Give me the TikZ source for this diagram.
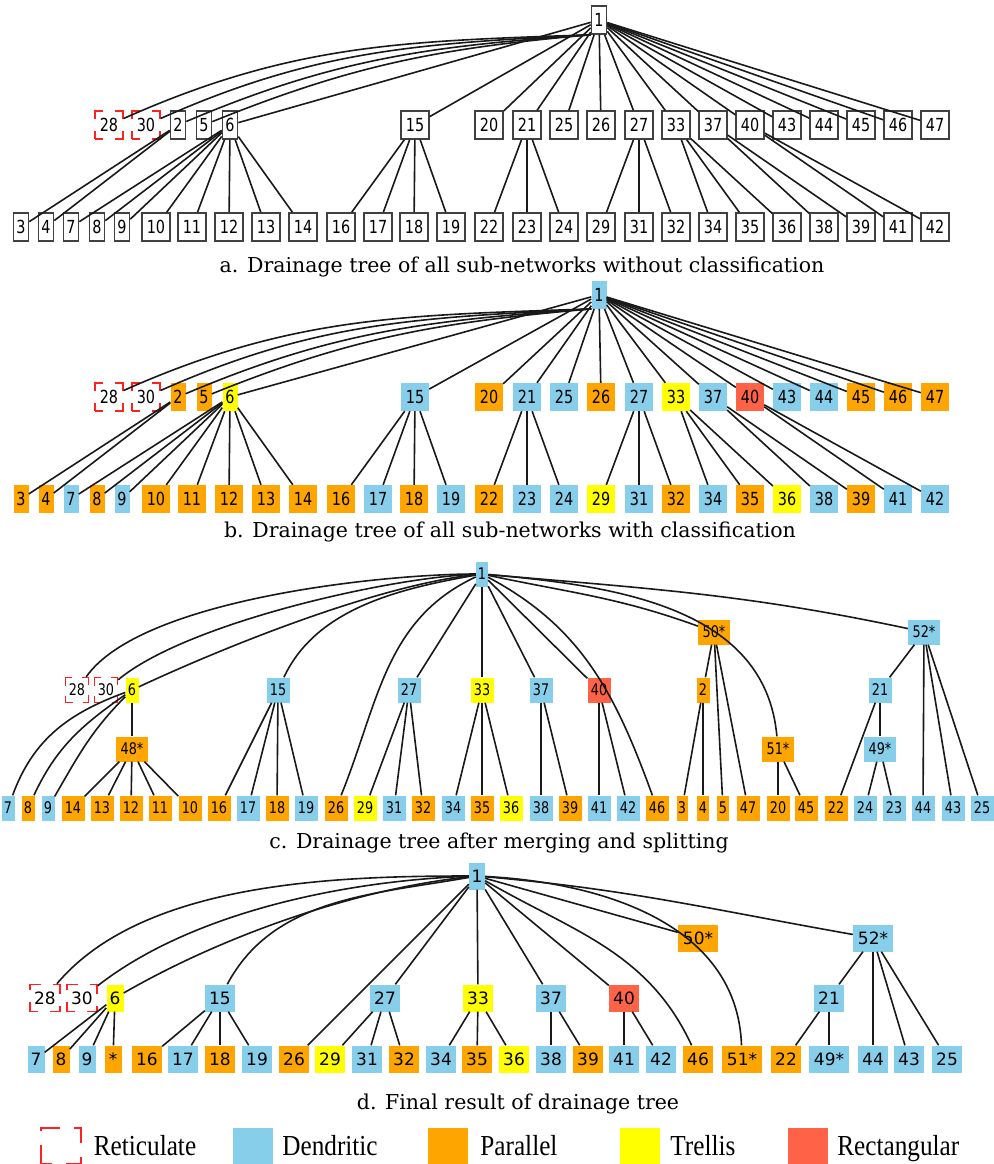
\documentclass[tikz,border=0pt]{standalone}
\usepackage{fontspec}
\usetikzlibrary{positioning}
\newfontfamily\numfont[FakeStretch=0.8]{DejaVu Sans}
\newfontfamily\numfontw{DejaVu Sans}
\newfontfamily\capfont{DejaVu Serif}
\newfontfamily\legfont[FakeStretch=0.87]{Liberation Serif}
\definecolor{dend}{HTML}{87CEEB}
\definecolor{para}{HTML}{FFA500}
\definecolor{trel}{HTML}{FFFF00}
\definecolor{rect}{HTML}{FF6347}
\definecolor{retic}{HTML}{FF2020}
\tikzset{
  edge/.style={line width=1.6,black!90},
  tn/.style={inner sep=0,minimum width=#1},
  pa/.style={draw=black!75,line width=1.6,fill=white},
  pb/.style={fill=#1},
  ret/.style={draw=retic,line width=1.4,dash pattern=on 16pt off 12pt,dash phase=8pt},
  fab/.style={font=\numfont\fontsize{18}{18}\selectfont,minimum height=28},
  fc/.style={font=\numfont\fontsize{16}{16}\selectfont,minimum height=25},
  fd/.style={font=\numfontw\fontsize{17}{17}\selectfont,minimum height=27},
  captext/.style={font=\capfont\fontsize{20.5}{20.5}\selectfont},
  leg/.style={font=\legfont\fontsize{29}{29}\selectfont,inner sep=0,anchor=west,
    text height=19,text depth=0},
  legbox/.style={minimum width=40,minimum height=36,inner sep=0},
}
\begin{document}
\begin{tikzpicture}[x=1pt,y=-1pt]
  \useasboundingbox (0,0) rectangle (993,1164);

  % PANELS A AND B
  \foreach \p/\dy/\s in {a/0/pa,b/272/pb}{
    \node[tn=15,fab,\s=dend] (\p1) at (599,{20+\dy*1.01}) {1};
    \foreach \n/\x in {28/109,30/146}
      \node[tn=28,fab,ret] (\p\n) at (\x,{125+\dy}) {\n};
    \foreach \n/\x/\c/\w in {2/178/para/15,5/204/para/15,6/230/trel/15,15/415/dend/28,
        20/489/para/28,21/527/dend/28,25/564/dend/28,26/601/para/28,27/639/dend/28,
        33/676/trel/28,37/713/dend/28,40/750/rect/28,43/787/dend/28,44/824/dend/28,
        45/861/para/28,46/898/para/28,47/935/para/28}
      \node[tn=\w,fab,\s=\c] (\p\n) at (\x,{125+\dy}) {\n};
    \foreach \n/\x/\c/\w in {3/21/para/15,4/46/para/15,7/71/dend/15,8/97/para/15,9/122/dend/15,
        10/156/para/28,11/192/para/28,12/229/para/28,13/266/para/28,14/303/para/28,
        16/341/para/28,17/378/dend/28,18/414/para/28,19/451/dend/28,22/489/para/28,
        23/527/dend/28,24/564/dend/28,29/601/trel/28,31/639/dend/28,32/676/para/28,
        34/713/dend/28,35/750/para/28,36/787/trel/28,38/824/dend/28,39/861/para/28,
        41/898/dend/28,42/935/dend/28}
      \node[tn=\w,fab,\s=\c] (\p\n) at (\x,{227+\dy}) {\n};
    % edges
    \foreach \t/\o/\i in {28/182/24,30/183/24,2/184/23,5/185/22}
      \draw[edge] (\p1.south west) to[out=\o,in=\i] (\p\t);
    \foreach \t in {6,15,20,21,25,26,27,33,37,40,43,44,45,46,47}
      \draw[edge] (\p1) -- (\p\t);
    \foreach \f/\t in {2/3,2/4,6/7,6/8,6/9,6/10,6/11,6/12,6/13,6/14,15/16,15/17,15/18,15/19,
        21/22,21/23,21/24,27/29,27/31,27/32,33/34,33/35,33/36,37/38,37/39,40/41,40/42}
      \draw[edge] (\p\f) -- (\p\t);
  }
  \node[captext] (capa) at (522,267) {a. Drainage tree of all sub-networks without classification};
  \node[captext] (capb) at (510,532) {b. Drainage tree of all sub-networks with classification};

  % PANEL C
  \node[tn=12,fc,fill=dend] (c1) at (482,574) {1};
  \foreach \n/\x in {28/77,30/106}
    \node[tn=23,fc,ret,dash pattern=on 14pt off 10pt,dash phase=7pt] (c\n) at (\x,690) {\n};
  \foreach \n/\x/\c/\w in {6/132/trel/13,15/278/dend/23,27/409/dend/23,33/482/trel/23,
      37/541/dend/23,40/599/rect/23,2/703/para/13,21/880/dend/23}
    \node[tn=\w,fc,fill=\c] (c\n) at (\x,690) {\n};
  \foreach \n/\x/\y/\c in {50/714/632/para,52/924/632/dend,48/132/749/para,51/778/749/para,49/880/749/dend}
    \node[tn=32,fc,fill=\c] (c\n) at (\x,\y) {\n*};
  \foreach \n/\x/\c/\w in {7/8/dend/13,8/28/para/13,9/48/dend/13,14/73/para/23,13/102/para/23,
      12/131/para/23,11/160/para/23,10/190/para/23,16/219/para/23,17/248/dend/23,18/277/para/23,
      19/306/dend/23,26/336/para/23,29/365/trel/23,31/394/dend/23,32/423/para/23,34/453/dend/23,
      35/482/para/23,36/511/trel/23,38/541/dend/23,39/570/para/23,41/599/dend/23,42/628/dend/23,
      46/657/para/23,3/682/para/11,4/703/para/12,5/723/para/12,47/748/para/23,20/778/para/23,
      45/806/para/23,22/836/para/23,24/865/dend/23,23/894/dend/23,44/923/dend/23,43/953/dend/23,
      25/982/dend/23}
    \node[tn=\w,fc,fill=\c] (c\n) at (\x,808) {\n};
  % edges
  \foreach \t/\o/\i/\l in {28/180/55/0.6,30/182/40/0.6,6/186/25/0.7,15/190/65/0.9,26/205/68/1,
      46/-28/110/1,50/-12/160/1,51/-5/95/1,52/-5/168/1}
    \draw[edge] (c1) to[out=\o,in=\i,looseness=\l] (c\t);
  \foreach \t in {27,33,37,40}
    \draw[edge] (c1) -- (c\t);
  \foreach \t/\o/\i in {7/200/70,8/215/65,9/225/60}
    \draw[edge] (c6) to[out=\o,in=\i] (c\t);
  \foreach \f/\t in {6/48,48/14,48/13,48/12,48/11,48/10,15/16,15/17,15/18,15/19,27/29,27/31,
      27/32,33/34,33/35,33/36,37/38,37/39,40/41,40/42,50/2,50/5,50/47,2/3,2/4,51/20,51/45,
      52/21,52/44,52/43,52/25,21/22,21/49,49/24,49/23}
    \draw[edge] (c\f) -- (c\t);
  \node[captext] (capc) at (499,843) {c. Drainage tree after merging and splitting};

  % PANEL D
  \node[tn=16,fd,fill=dend] (d1) at (477,876) {1};
  \foreach \n/\x in {28/45,30/82}
    \node[tn=30,fd,ret,dash pattern=on 16pt off 12pt,dash phase=8pt] (d\n) at (\x,998) {\n};
  \foreach \n/\x/\c/\w in {6/115/trel/17,15/220/dend/30,27/385/dend/30,33/478/trel/30,
      37/551/dend/30,40/624/rect/30,21/829/dend/30}
    \node[tn=\w,fd,fill=\c] (d\n) at (\x,998) {\n};
  \foreach \n/\x/\c in {50/698/para,52/873/dend}
    \node[tn=40,fd,fill=\c] (d\n) at (\x,938) {\n*};
  \foreach \n/\x/\c/\w in {7/36/dend/17,8/61/para/17,9/87/dend/17,16/147/para/30,17/183/dend/30,
      18/220/para/30,19/257/dend/30,26/294/para/30,29/330/trel/30,31/367/dend/30,32/404/para/30,
      34/441/dend/30,35/477/para/30,36/514/trel/30,38/551/dend/30,39/588/para/30,41/624/dend/30,
      42/661/dend/30,46/698/para/30,22/786/para/30,44/873/dend/30,43/909/dend/30,25/947/dend/30}
    \node[tn=\w,fd,fill=\c] (d\n) at (\x,1059) {\n};
  \node[tn=17,fd,fill=para] (d48) at (113,1059) {*};
  \foreach \n/\x/\c in {51/742/para,49/829/dend}
    \node[tn=40,fd,fill=\c] (d\n) at (\x,1059) {\n*};
  % edges
  \foreach \t/\o/\i/\l in {28/180/50/0.8,30/182/38/0.8,6/186/30/0.8,15/190/62/0.95,
      46/-30/115/1,51/-3/92/1,52/-5/170/1}
    \draw[edge] (d1) to[out=\o,in=\i,looseness=\l] (d\t);
  \foreach \t in {26,27,33,37,40,50}
    \draw[edge] (d1) -- (d\t);
  \foreach \f/\t in {6/7,6/8,6/9,6/48,15/16,15/17,15/18,15/19,27/29,27/31,27/32,33/34,33/35,
      33/36,37/38,37/39,40/41,40/42,52/21,52/44,52/43,52/25,21/22,21/49}
    \draw[edge] (d\f) -- (d\t);
  \node[captext] (capd) at (518,1104) {d. Final result of drainage tree};

  % LEGEND
  \node[legbox,ret,dash pattern=on 22pt off 14pt,dash phase=11pt] (lret) at (61,1146) {};
  \node[legbox,fill=dend] (ldend) at (253,1146) {};
  \node[legbox,fill=para] (lpara) at (448,1146) {};
  \node[legbox,fill=trel] (ltrel) at (640,1146) {};
  \node[legbox,fill=rect] (lrect) at (808,1146) {};
  \node[leg,right=12pt of lret] (tret) {Reticulate};
  \node[leg,right=9pt of ldend] (tdend) {Dendritic};
  \node[leg,right=12pt of lpara] (tpara) {Parallel};
  \node[leg,right=10pt of ltrel] (ttrel) {Trellis};
  \node[leg,right=9pt of lrect] (trect) {Rectangular};
\end{tikzpicture}
\end{document}
